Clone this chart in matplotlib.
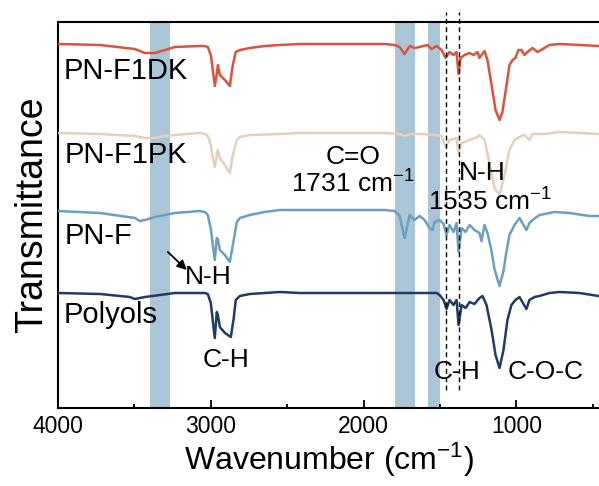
import numpy as np
import matplotlib
matplotlib.use("Agg")
import matplotlib.pyplot as plt

plt.rcParams['font.family'] = ['Liberation Sans', 'DejaVu Sans']
plt.rcParams['mathtext.fontset'] = 'custom'
plt.rcParams['mathtext.rm'] = 'Liberation Sans'
plt.rcParams['mathtext.it'] = 'Liberation Sans'
plt.rcParams['mathtext.bf'] = 'Liberation Sans'

# ---------------- data ----------------
names = ["PN-F1DK", "PN-F1PK", "PN-F", "Polyols"]
colors = ["#dc533d", "#e7cfb8", "#6a9fc1", "#1f3c66"]
offsets = [364, 275, 197, 115]

wn_dk = [4000, 3725, 3497, 3431, 3366, 3300, 3235, 3072, 3039, 3020, 3000, 2987, 2974, 2961, 2954,
         2941, 2908, 2876, 2856, 2837, 2810, 2745, 2647, 2549, 2418, 1863, 1797, 1765, 1732, 1699,
         1667, 1634, 1582, 1556, 1523, 1490, 1464, 1438, 1412, 1392, 1379, 1366, 1340, 1307, 1281,
         1255, 1242, 1209, 1190, 1163, 1137, 1111, 1092, 1065, 1046, 1026, 1007, 987, 967, 948,
         928, 895, 863, 817, 784, 719, 588, 464]
t_dk = [0, -1, -5, -9, -9, -6, -3, -2, -2, -3, -11, -26, -42, -30, -21,
        -31, -36, -42, -21, -8, -6, -4, -2, -1, 0, 0, -1, -3, -10, -2,
        -4, -3, -1, -5, -2, -6, -14, -8, -11, -8, -30, -14, -11, -9, -11,
        -8, -14, -7, -16, -41, -66, -76, -68, -41, -21, -16, -14, -6, -6, -11,
        -8, -4, -8, -4, -1, 0, -1, -2]

wn_pk = [4000, 3725, 3497, 3431, 3366, 3300, 3235, 3072, 3039, 3020, 3000, 2987, 2974, 2961, 2954,
         2941, 2908, 2876, 2856, 2830, 2810, 2745, 2549, 2418, 1863, 1765, 1732, 1699, 1634, 1523,
         1490, 1464, 1438, 1412, 1392, 1379, 1359, 1307, 1255, 1242, 1209, 1176, 1144, 1111, 1078,
         1046, 1013, 980, 948, 915, 895, 817, 719, 588, 464]
t_pk = [0, -1, -3, -5, -5, -3, -2, 0, -1, -3, -12, -25, -34, -22, -17,
        -25, -32, -40, -22, -7, -4, -2, -1, 0, 0, -1, -3, -1, -1, -2,
        -3, -14, -7, -6, -5, -20, -10, -7, -4, -2, -7, -30, -55, -62, -42,
        -17, -7, -4, -2, -7, -1, -1, 1, 0, -1]

wn_f = [4000, 3725, 3497, 3464, 3431, 3366, 3333, 3235, 3072, 3039, 3020, 3000, 2987, 2974, 2961,
        2954, 2941, 2908, 2876, 2850, 2830, 2810, 2745, 2647, 2549, 2418, 1863, 1797, 1765, 1732,
        1699, 1667, 1634, 1601, 1569, 1549, 1536, 1503, 1477, 1458, 1438, 1412, 1392, 1379, 1359,
        1333, 1307, 1275, 1242, 1229, 1209, 1190, 1163, 1144, 1111, 1085, 1065, 1046, 1013, 980,
        954, 935, 915, 895, 850, 752, 654, 523, 464]
t_f = [0, -2, -7, -10, -9, -6, -5, -2, 0, -1, -4, -18, -34, -49, -27,
       -28, -39, -44, -51, -29, -11, -7, -4, -1, 1, 1, 1, 0, -5, -27,
       -4, -9, -5, -9, -17, -19, -11, -9, -13, -24, -14, -21, -12, -41, -17,
       -21, -14, -19, -22, -30, -14, -22, -40, -58, -75, -60, -40, -24, -14, -7,
       -14, -19, -12, -9, -4, -1, -2, -5, -5]

wn_po = [4000, 3725, 3530, 3497, 3431, 3333, 3235, 3072, 3039, 3020, 3000, 2987, 2974, 2961, 2954,
         2941, 2908, 2869, 2850, 2837, 2810, 2745, 2549, 2418, 1863, 1797, 1634, 1523, 1503, 1477,
         1458, 1438, 1412, 1392, 1379, 1359, 1333, 1307, 1275, 1242, 1222, 1196, 1163, 1137, 1111,
         1085, 1059, 1033, 1007, 980, 954, 935, 915, 882, 850, 784, 719, 588, 464]
t_po = [0, -1, -4, -6, -4, -2, 0, 0, 0, -1, -10, -28, -45, -19, -22,
        -34, -40, -44, -25, -7, -3, -1, 1, 0, 0, 0, 0, 0, -2, -7,
        -16, -7, -12, -7, -32, -12, -15, -9, -11, -5, -3, -12, -37, -62, -75,
        -57, -27, -12, -7, -4, -11, -16, -7, -4, -3, 0, 1, 0, -3]

spectra_wn = [wn_dk, wn_pk, wn_f, wn_po]
spectra_t = [t_dk, t_pk, t_f, t_po]

bands = [(3400, 3268), (1797, 1667), (1582, 1503)]
dashed_lines = [1464, 1379]

xticks_major = [4000, 3000, 2000, 1000]
xticks_minor = [3500, 2500, 1500, 500]

# ---------------- figure ----------------
W, H = 599, 486
fig = plt.figure(figsize=(W / 100, H / 100), dpi=100)
ax = fig.add_axes([58 / W, (H - 408) / H, (W - 58) / W, 386 / H])
ax.set_xlim(4000, 460)
ax.set_ylim(0, 386)

band_color = "#aac6d6"
for a, b in bands:
    ax.axvspan(b, a, color=band_color, lw=0, zorder=1)

for wn, t, off, c in zip(spectra_wn, spectra_t, offsets, colors):
    ax.plot(wn, np.array(t) + off, color=c, lw=1.8, zorder=3)

for x in dashed_lines:
    ax.plot([x, x], [18, 396], color="black", lw=1.0, ls=(0, (3.5, 2.5)),
            clip_on=False, zorder=4)

# series labels
label_pos = [(3961, 337), (3954, 253), (3954, 172), (3961, 93)]
for name, (x, y) in zip(names, label_pos):
    ax.text(x, y, name, fontsize=21, ha="left", va="center", zorder=5)

fs = 19
ax.text(2902, 48, "C-H", fontsize=fs, ha="center", va="center")
ax.annotate("", xy=(3157, 138), xytext=(3281, 156),
            arrowprops=dict(arrowstyle="-|>", color="black", lw=1.3,
                            mutation_scale=14, shrinkA=0, shrinkB=0))
ax.text(3020, 131, "N-H", fontsize=fs, ha="center", va="center")
ax.text(2072, 251, "C=O", fontsize=fs, ha="center", va="center")
ax.text(2072, 224, r"1731 cm$^{-1}$", fontsize=fs, ha="center", va="center")
ax.text(1222, 235, "N-H", fontsize=fs, ha="center", va="center")
ax.text(1176, 206, r"1535 cm$^{-1}$", fontsize=fs, ha="center", va="center")
ax.text(1386, 36, "C-H", fontsize=fs, ha="center", va="center")
ax.text(810, 36, "C-O-C", fontsize=fs, ha="center", va="center")

# axes styling
ax.spines["right"].set_visible(False)
for s in ["left", "bottom", "top"]:
    ax.spines[s].set_linewidth(1.5)
ax.set_xticks(xticks_major)
ax.set_xticks(xticks_minor, minor=True)
ax.set_xticklabels([str(v) for v in xticks_major], fontsize=16.5)
ax.tick_params(axis="x", which="major", direction="in", length=6, width=1.3, pad=5)
ax.tick_params(axis="x", which="minor", direction="in", length=3, width=1.3)
ax.set_yticks([])
ax.set_xlabel(r"Wavenumber (cm$^{-1}$)", fontsize=23, labelpad=2)
ax.set_ylabel("Transmittance", fontsize=27, labelpad=6)

fig.savefig("out.png", dpi=100)
